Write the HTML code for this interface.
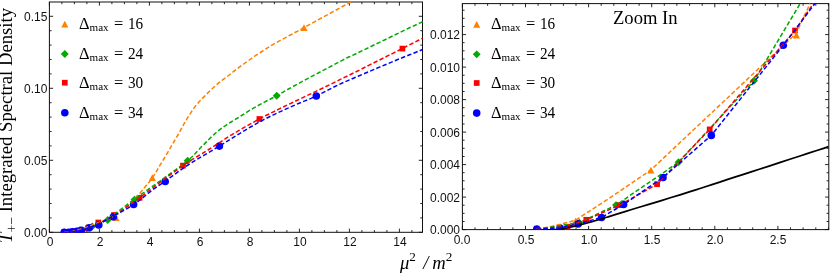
<!DOCTYPE html>
<html><head><meta charset="utf-8"><title>plot</title>
<style>
html,body{margin:0;padding:0;background:#fff;}
body{width:830px;height:274px;position:relative;overflow:hidden;}
div{position:absolute;white-space:nowrap;line-height:1;color:#000;will-change:transform;}
.tk{font-family:"Liberation Sans",sans-serif;font-size:12px;color:#111;}
.tk.c{transform:translateX(-50%);}
.lg{font-family:"Liberation Serif",serif;font-size:16.4px;word-spacing:1.2px;}
.lg sub{font-size:11.1px;vertical-align:baseline;position:relative;top:1.8px;line-height:0;}
.lg .n{display:inline-block;transform:scaleX(0.93);transform-origin:0 50%;margin-left:-0.5px;}
.ttl{font-family:"Liberation Serif",serif;font-size:18.6px;}
.xl{font-family:"Liberation Serif",serif;font-size:18.6px;word-spacing:1px;}
.xl sup{font-size:13.2px;vertical-align:baseline;position:relative;top:-8px;line-height:0;}
.yl{font-family:"Liberation Serif",serif;font-size:18.7px;transform-origin:0 0;transform:rotate(-90deg);}
.yl sub{font-size:13.8px;vertical-align:baseline;position:relative;top:4px;line-height:0;}
</style></head><body>
<svg width="830" height="274" viewBox="0 0 830 274" style="position:absolute;left:0;top:0">
<defs><clipPath id="cl"><rect x="48.90" y="0.80" width="374.10" height="232.00"/></clipPath><clipPath id="cr"><rect x="461.90" y="2.40" width="367.40" height="227.70"/></clipPath></defs>
<rect x="49.40" y="2.00" width="373.10" height="230.30" fill="none" stroke="#101010" stroke-width="1"/>
<rect x="462.40" y="3.60" width="366.40" height="226.00" fill="none" stroke="#101010" stroke-width="1"/>
<path d="M49.4 232.3L49.4 228.6M49.4 2.0L49.4 5.7M61.9 232.3L61.9 230.1M61.9 2.0L61.9 4.2M74.4 232.3L74.4 230.1M74.4 2.0L74.4 4.2M86.9 232.3L86.9 230.1M86.9 2.0L86.9 4.2M99.4 232.3L99.4 228.6M99.4 2.0L99.4 5.7M111.9 232.3L111.9 230.1M111.9 2.0L111.9 4.2M124.4 232.3L124.4 230.1M124.4 2.0L124.4 4.2M136.9 232.3L136.9 230.1M136.9 2.0L136.9 4.2M149.4 232.3L149.4 228.6M149.4 2.0L149.4 5.7M161.9 232.3L161.9 230.1M161.9 2.0L161.9 4.2M174.4 232.3L174.4 230.1M174.4 2.0L174.4 4.2M186.9 232.3L186.9 230.1M186.9 2.0L186.9 4.2M199.4 232.3L199.4 228.6M199.4 2.0L199.4 5.7M211.9 232.3L211.9 230.1M211.9 2.0L211.9 4.2M224.4 232.3L224.4 230.1M224.4 2.0L224.4 4.2M236.9 232.3L236.9 230.1M236.9 2.0L236.9 4.2M249.4 232.3L249.4 228.6M249.4 2.0L249.4 5.7M261.9 232.3L261.9 230.1M261.9 2.0L261.9 4.2M274.4 232.3L274.4 230.1M274.4 2.0L274.4 4.2M286.9 232.3L286.9 230.1M286.9 2.0L286.9 4.2M299.4 232.3L299.4 228.6M299.4 2.0L299.4 5.7M311.9 232.3L311.9 230.1M311.9 2.0L311.9 4.2M324.4 232.3L324.4 230.1M324.4 2.0L324.4 4.2M336.9 232.3L336.9 230.1M336.9 2.0L336.9 4.2M349.4 232.3L349.4 228.6M349.4 2.0L349.4 5.7M361.9 232.3L361.9 230.1M361.9 2.0L361.9 4.2M374.4 232.3L374.4 230.1M374.4 2.0L374.4 4.2M386.9 232.3L386.9 230.1M386.9 2.0L386.9 4.2M399.4 232.3L399.4 228.6M399.4 2.0L399.4 5.7M411.9 232.3L411.9 230.1M411.9 2.0L411.9 4.2M49.4 232.3L53.1 232.3M422.5 232.3L418.8 232.3M49.4 217.9L51.6 217.9M422.5 217.9L420.3 217.9M49.4 203.5L51.6 203.5M422.5 203.5L420.3 203.5M49.4 189.1L51.6 189.1M422.5 189.1L420.3 189.1M49.4 174.7L51.6 174.7M422.5 174.7L420.3 174.7M49.4 160.3L53.1 160.3M422.5 160.3L418.8 160.3M49.4 145.9L51.6 145.9M422.5 145.9L420.3 145.9M49.4 131.5L51.6 131.5M422.5 131.5L420.3 131.5M49.4 117.1L51.6 117.1M422.5 117.1L420.3 117.1M49.4 102.7L51.6 102.7M422.5 102.7L420.3 102.7M49.4 88.3L53.1 88.3M422.5 88.3L418.8 88.3M49.4 73.9L51.6 73.9M422.5 73.9L420.3 73.9M49.4 59.5L51.6 59.5M422.5 59.5L420.3 59.5M49.4 45.1L51.6 45.1M422.5 45.1L420.3 45.1M49.4 30.7L51.6 30.7M422.5 30.7L420.3 30.7M49.4 16.3L53.1 16.3M422.5 16.3L418.8 16.3M462.4 229.6L462.4 225.9M462.4 3.6L462.4 7.3M475.0 229.6L475.0 227.4M475.0 3.6L475.0 5.8M487.6 229.6L487.6 227.4M487.6 3.6L487.6 5.8M500.3 229.6L500.3 227.4M500.3 3.6L500.3 5.8M512.9 229.6L512.9 227.4M512.9 3.6L512.9 5.8M525.5 229.6L525.5 225.9M525.5 3.6L525.5 7.3M538.1 229.6L538.1 227.4M538.1 3.6L538.1 5.8M550.7 229.6L550.7 227.4M550.7 3.6L550.7 5.8M563.4 229.6L563.4 227.4M563.4 3.6L563.4 5.8M576.0 229.6L576.0 227.4M576.0 3.6L576.0 5.8M588.6 229.6L588.6 225.9M588.6 3.6L588.6 7.3M601.2 229.6L601.2 227.4M601.2 3.6L601.2 5.8M613.8 229.6L613.8 227.4M613.8 3.6L613.8 5.8M626.5 229.6L626.5 227.4M626.5 3.6L626.5 5.8M639.1 229.6L639.1 227.4M639.1 3.6L639.1 5.8M651.7 229.6L651.7 225.9M651.7 3.6L651.7 7.3M664.3 229.6L664.3 227.4M664.3 3.6L664.3 5.8M676.9 229.6L676.9 227.4M676.9 3.6L676.9 5.8M689.6 229.6L689.6 227.4M689.6 3.6L689.6 5.8M702.2 229.6L702.2 227.4M702.2 3.6L702.2 5.8M714.8 229.6L714.8 225.9M714.8 3.6L714.8 7.3M727.4 229.6L727.4 227.4M727.4 3.6L727.4 5.8M740.0 229.6L740.0 227.4M740.0 3.6L740.0 5.8M752.7 229.6L752.7 227.4M752.7 3.6L752.7 5.8M765.3 229.6L765.3 227.4M765.3 3.6L765.3 5.8M777.9 229.6L777.9 225.9M777.9 3.6L777.9 7.3M790.5 229.6L790.5 227.4M790.5 3.6L790.5 5.8M803.1 229.6L803.1 227.4M803.1 3.6L803.1 5.8M815.8 229.6L815.8 227.4M815.8 3.6L815.8 5.8M828.4 229.6L828.4 227.4M828.4 3.6L828.4 5.8M462.4 229.6L466.1 229.6M828.8 229.6L825.1 229.6M462.4 221.5L464.6 221.5M828.8 221.5L826.6 221.5M462.4 213.3L464.6 213.3M828.8 213.3L826.6 213.3M462.4 205.2L464.6 205.2M828.8 205.2L826.6 205.2M462.4 197.1L466.1 197.1M828.8 197.1L825.1 197.1M462.4 189.0L464.6 189.0M828.8 189.0L826.6 189.0M462.4 180.8L464.6 180.8M828.8 180.8L826.6 180.8M462.4 172.7L464.6 172.7M828.8 172.7L826.6 172.7M462.4 164.6L466.1 164.6M828.8 164.6L825.1 164.6M462.4 156.5L464.6 156.5M828.8 156.5L826.6 156.5M462.4 148.3L464.6 148.3M828.8 148.3L826.6 148.3M462.4 140.2L464.6 140.2M828.8 140.2L826.6 140.2M462.4 132.1L466.1 132.1M828.8 132.1L825.1 132.1M462.4 124.0L464.6 124.0M828.8 124.0L826.6 124.0M462.4 115.8L464.6 115.8M828.8 115.8L826.6 115.8M462.4 107.7L464.6 107.7M828.8 107.7L826.6 107.7M462.4 99.6L466.1 99.6M828.8 99.6L825.1 99.6M462.4 91.5L464.6 91.5M828.8 91.5L826.6 91.5M462.4 83.3L464.6 83.3M828.8 83.3L826.6 83.3M462.4 75.2L464.6 75.2M828.8 75.2L826.6 75.2M462.4 67.1L466.1 67.1M828.8 67.1L825.1 67.1M462.4 59.0L464.6 59.0M828.8 59.0L826.6 59.0M462.4 50.8L464.6 50.8M828.8 50.8L826.6 50.8M462.4 42.7L464.6 42.7M828.8 42.7L826.6 42.7M462.4 34.6L466.1 34.6M828.8 34.6L825.1 34.6M462.4 26.5L464.6 26.5M828.8 26.5L826.6 26.5M462.4 18.3L464.6 18.3M828.8 18.3L826.6 18.3M462.4 10.2L464.6 10.2M828.8 10.2L826.6 10.2" stroke="#101010" stroke-width="0.9" fill="none"/>
<g clip-path="url(#cl)">
<polygon points="64.20,228.60 67.75,235.40 60.65,235.40" fill="#ff8000"/>
<polygon points="71.80,228.00 75.35,234.80 68.25,234.80" fill="#ff8000"/>
<polygon points="86.80,223.70 90.35,230.50 83.25,230.50" fill="#ff8000"/>
<polygon points="115.90,214.10 119.45,220.90 112.35,220.90" fill="#ff8000"/>
<polygon points="152.30,174.20 155.85,181.00 148.75,181.00" fill="#ff8000"/>
<polygon points="304.00,24.20 307.55,31.00 300.45,31.00" fill="#ff8000"/>
<polygon points="72.60,227.85 76.55,231.80 72.60,235.75 68.65,231.80" fill="#00aa00"/>
<polygon points="79.90,226.25 83.85,230.20 79.90,234.15 75.95,230.20" fill="#00aa00"/>
<polygon points="92.30,222.45 96.25,226.40 92.30,230.35 88.35,226.40" fill="#00aa00"/>
<polygon points="107.70,216.05 111.65,220.00 107.70,223.95 103.75,220.00" fill="#00aa00"/>
<polygon points="134.50,195.65 138.45,199.60 134.50,203.55 130.55,199.60" fill="#00aa00"/>
<polygon points="187.60,156.85 191.55,160.80 187.60,164.75 183.65,160.80" fill="#00aa00"/>
<polygon points="276.70,91.85 280.65,95.80 276.70,99.75 272.75,95.80" fill="#00aa00"/>
<rect x="61.35" y="229.45" width="5.70" height="5.70" fill="#ff0000"/>
<rect x="67.45" y="229.35" width="5.70" height="5.70" fill="#ff0000"/>
<rect x="71.15" y="228.65" width="5.70" height="5.70" fill="#ff0000"/>
<rect x="77.75" y="227.35" width="5.70" height="5.70" fill="#ff0000"/>
<rect x="85.15" y="225.55" width="5.70" height="5.70" fill="#ff0000"/>
<rect x="95.45" y="219.65" width="5.70" height="5.70" fill="#ff0000"/>
<rect x="111.15" y="212.15" width="5.70" height="5.70" fill="#ff0000"/>
<rect x="136.75" y="194.95" width="5.70" height="5.70" fill="#ff0000"/>
<rect x="180.15" y="162.75" width="5.70" height="5.70" fill="#ff0000"/>
<rect x="256.55" y="116.15" width="5.70" height="5.70" fill="#ff0000"/>
<rect x="399.55" y="45.75" width="5.70" height="5.70" fill="#ff0000"/>
<circle cx="64.20" cy="232.40" r="3.8" fill="#0000ff"/>
<circle cx="68.80" cy="232.30" r="3.8" fill="#0000ff"/>
<circle cx="72.40" cy="231.90" r="3.8" fill="#0000ff"/>
<circle cx="77.00" cy="231.30" r="3.8" fill="#0000ff"/>
<circle cx="81.40" cy="230.20" r="3.8" fill="#0000ff"/>
<circle cx="89.20" cy="227.80" r="3.8" fill="#0000ff"/>
<circle cx="98.80" cy="224.90" r="3.8" fill="#0000ff"/>
<circle cx="113.40" cy="216.80" r="3.8" fill="#0000ff"/>
<circle cx="133.60" cy="204.50" r="3.8" fill="#0000ff"/>
<circle cx="165.20" cy="181.50" r="3.8" fill="#0000ff"/>
<circle cx="219.40" cy="146.10" r="3.8" fill="#0000ff"/>
<circle cx="316.30" cy="96.00" r="3.8" fill="#0000ff"/>
<polyline points="64.2,232.4 64.7,232.4 65.5,232.3 66.4,232.2 67.3,232.1 68.3,232.0 69.3,231.9 70.5,231.8 71.8,231.6 73.2,231.3 74.7,230.8 76.3,230.3 78.1,229.8 79.6,229.4 81.0,229.1 83.2,228.4 86.8,227.1 93.0,224.8 101.0,221.7 109.1,218.4 115.6,215.3 119.9,212.6 122.9,210.1 125.4,207.6 128.0,205.0 131.0,202.2 134.0,199.3 136.8,196.4 139.3,193.8 141.3,191.6 142.9,189.6 144.4,187.7 146.0,185.7 147.6,183.8 149.3,181.9 150.9,179.9 152.6,177.6 154.5,174.7 156.5,171.3 158.4,168.0 160.0,165.2 161.0,163.6 161.5,162.8 162.2,161.7 163.8,159.0 166.9,153.8 170.9,146.9 174.9,140.1 177.9,135.0 179.3,132.5 179.8,131.6 180.0,131.1 180.7,129.8 182.1,127.4 183.7,124.4 185.5,121.3 187.2,118.4 188.9,115.7 190.6,113.1 192.2,110.6 193.8,108.4 195.2,106.5 196.5,104.9 197.7,103.5 199.0,102.0 200.3,100.6 201.5,99.3 202.9,97.9 204.4,96.4 206.2,94.6 208.1,92.6 210.1,90.6 212.1,88.7 214.0,87.0 215.9,85.3 217.8,83.7 219.8,82.1 221.6,80.7 223.3,79.4 225.5,77.8 228.5,75.5 232.8,72.2 238.0,68.2 243.7,64.0 249.2,60.0 254.7,56.2 260.4,52.5 265.9,48.9 271.2,45.6 276.1,42.7 280.8,40.1 285.3,37.8 289.5,35.5 292.6,33.8 295.0,32.5 298.2,30.8 304.0,27.6 314.5,21.8 328.3,14.3 341.6,7.0 350.7,2.0" fill="none" stroke="#ff8000" stroke-width="1.5" stroke-dasharray="4.4 2.3"/>
<polyline points="64.3,232.3 65.8,232.2 68.0,232.2 70.4,232.0 72.6,231.8 74.4,231.5 76.0,231.2 77.7,230.8 79.9,230.2 82.6,229.5 85.6,228.6 88.9,227.6 92.3,226.4 95.6,225.1 98.9,223.8 102.6,222.0 107.3,219.2 113.3,215.1 120.2,209.9 127.4,204.4 134.4,199.2 140.9,194.6 147.2,190.1 153.5,185.6 160.0,181.0 167.1,175.9 174.6,170.5 181.7,165.4 187.6,160.8 191.9,157.0 195.0,153.8 197.5,151.0 200.0,148.3 202.5,145.8 204.7,143.6 206.7,141.6 208.5,139.8 210.0,138.3 211.2,137.1 212.3,136.1 213.5,135.0 214.7,133.9 216.0,132.8 217.2,131.7 218.5,130.6 219.8,129.6 221.1,128.6 222.5,127.6 224.0,126.6 225.6,125.5 227.3,124.4 229.1,123.2 231.0,122.0 233.1,120.7 235.3,119.4 237.6,118.0 240.0,116.5 242.4,115.0 244.8,113.5 247.3,111.9 250.0,110.2 253.0,108.4 256.3,106.6 259.7,104.7 263.0,102.9 266.1,101.2 269.2,99.7 272.5,98.0 276.4,95.9 280.7,93.5 285.2,90.9 290.7,87.8 298.0,83.8 308.4,78.2 321.2,71.4 333.7,64.8 343.2,59.8 347.6,57.5 348.8,57.0 350.1,56.5 355.0,54.2 365.6,49.1 379.6,42.3 393.9,35.4 405.0,30.0 412.1,26.6 416.9,24.4 420.2,22.9 422.6,21.8" fill="none" stroke="#00aa00" stroke-width="1.5" stroke-dasharray="4.4 2.3"/>
<polyline points="64.2,232.3 65.4,232.3 67.0,232.3 68.8,232.3 70.3,232.2 71.3,232.1 72.1,231.9 72.9,231.7 74.0,231.5 75.4,231.2 77.1,230.9 78.8,230.6 80.6,230.2 82.3,229.9 84.1,229.5 85.9,229.1 88.0,228.4 90.3,227.5 92.7,226.4 95.4,225.1 98.5,223.5 102.1,221.8 106.1,219.9 110.5,217.7 115.4,214.8 120.5,211.4 126.0,207.6 132.2,203.1 139.8,197.6 149.6,190.3 161.0,181.7 172.5,173.1 182.4,166.0 190.0,160.9 196.4,157.0 202.1,153.6 208.0,150.0 214.0,146.1 219.9,142.3 225.8,138.4 232.0,134.6 238.6,130.7 245.5,126.7 252.4,122.8 259.4,119.0 266.0,115.5 272.4,112.3 279.3,108.9 287.3,105.0 296.8,100.5 307.2,95.5 318.4,90.2 330.0,84.6 342.7,78.3 356.6,71.5 369.7,64.9 380.5,59.5 388.0,55.7 393.3,53.1 397.7,50.9 402.4,48.5 408.0,45.6 413.9,42.7 419.0,40.0 422.6,38.2" fill="none" stroke="#ff0000" stroke-width="1.5" stroke-dasharray="4.4 2.3"/>
<polyline points="64.2,232.4 65.0,232.4 66.3,232.4 67.6,232.3 68.8,232.3 69.7,232.2 70.6,232.1 71.5,232.0 72.4,231.9 73.5,231.8 74.6,231.6 75.8,231.5 77.0,231.3 78.0,231.1 79.0,230.9 80.1,230.6 81.4,230.2 83.1,229.7 85.0,229.2 87.0,228.5 89.2,227.8 91.4,227.0 93.6,226.2 96.0,225.3 98.8,224.0 101.9,222.4 105.3,220.5 109.0,218.4 113.1,216.1 117.8,213.6 123.0,210.8 128.4,207.9 133.6,204.7 138.7,201.0 143.8,196.9 148.6,193.0 152.9,189.6 156.1,187.3 158.6,185.6 161.3,183.9 164.9,181.4 169.8,177.9 175.4,173.8 181.6,169.3 188.3,164.8 195.8,160.1 204.1,155.2 212.3,150.4 219.3,146.2 224.7,142.9 229.0,140.1 233.0,137.6 237.5,134.8 242.9,131.6 248.7,128.1 254.4,124.8 259.4,122.0 263.3,119.9 266.5,118.2 269.6,116.7 273.5,114.8 278.4,112.5 283.8,110.0 289.5,107.5 295.0,105.0 300.3,102.7 305.6,100.6 311.0,98.4 316.3,96.0 321.6,93.4 326.8,90.7 332.2,87.8 338.0,85.0 344.4,82.1 351.1,79.2 358.1,76.2 365.0,73.3 371.9,70.4 378.8,67.4 385.9,64.5 393.0,61.5 401.0,58.2 409.6,54.8 417.2,51.7 422.6,49.5" fill="none" stroke="#0000ff" stroke-width="1.5" stroke-dasharray="4.4 2.3"/>
</g>
<g clip-path="url(#cr)">
<polygon points="536.70,225.60 540.25,232.40 533.15,232.40" fill="#ff8000"/>
<polygon points="575.70,217.60 579.25,224.40 572.15,224.40" fill="#ff8000"/>
<polygon points="650.90,166.80 654.45,173.60 647.35,173.60" fill="#ff8000"/>
<polygon points="796.40,31.80 799.95,38.60 792.85,38.60" fill="#ff8000"/>
<polygon points="537.00,225.05 540.95,229.00 537.00,232.95 533.05,229.00" fill="#00aa00"/>
<polygon points="579.30,218.65 583.25,222.60 579.30,226.55 575.35,222.60" fill="#00aa00"/>
<polygon points="616.00,201.15 619.95,205.10 616.00,209.05 612.05,205.10" fill="#00aa00"/>
<polygon points="678.50,158.35 682.45,162.30 678.50,166.25 674.55,162.30" fill="#00aa00"/>
<polygon points="754.00,76.85 757.95,80.80 754.00,84.75 750.05,80.80" fill="#00aa00"/>
<rect x="533.85" y="225.75" width="5.70" height="5.70" fill="#ff0000"/>
<rect x="564.75" y="223.95" width="5.70" height="5.70" fill="#ff0000"/>
<rect x="583.45" y="216.95" width="5.70" height="5.70" fill="#ff0000"/>
<rect x="616.75" y="202.25" width="5.70" height="5.70" fill="#ff0000"/>
<rect x="654.25" y="181.35" width="5.70" height="5.70" fill="#ff0000"/>
<rect x="706.85" y="126.55" width="5.70" height="5.70" fill="#ff0000"/>
<rect x="792.15" y="27.65" width="5.70" height="5.70" fill="#ff0000"/>
<circle cx="536.70" cy="229.20" r="3.8" fill="#0000ff"/>
<circle cx="560.00" cy="228.00" r="3.8" fill="#0000ff"/>
<circle cx="578.10" cy="223.90" r="3.8" fill="#0000ff"/>
<circle cx="601.50" cy="217.50" r="3.8" fill="#0000ff"/>
<circle cx="623.60" cy="204.40" r="3.8" fill="#0000ff"/>
<circle cx="663.00" cy="177.50" r="3.8" fill="#0000ff"/>
<circle cx="711.30" cy="135.40" r="3.8" fill="#0000ff"/>
<circle cx="783.30" cy="45.30" r="3.8" fill="#0000ff"/>
<polyline points="536.7,230.2 539.2,230.1 542.7,230.1 546.6,229.9 550.0,229.8 552.5,229.7 554.7,229.6 557.0,229.4 560.0,229.0 564.1,228.3 568.9,227.3 573.8,226.3 578.1,225.3 581.5,224.5 584.5,223.7 587.2,223.0 590.0,222.2 592.9,221.4 595.8,220.5 598.7,219.6 601.5,218.8 603.8,218.1 605.7,217.5 608.2,216.8 612.0,215.6 617.5,213.9 624.2,211.9 631.7,209.5 640.0,207.0 649.6,204.1 660.5,200.8 671.1,197.5 680.0,194.8 686.2,192.9 690.8,191.4 695.0,190.1 700.0,188.5 706.1,186.5 712.7,184.4 719.7,182.1 727.0,179.7 734.7,177.2 742.7,174.6 751.1,171.9 760.0,169.0 769.8,165.8 780.3,162.4 790.6,159.0 800.0,156.0 808.6,153.2 816.8,150.5 823.6,148.3 828.5,146.7" fill="none" stroke="#000" stroke-width="1.8"/>
<polyline points="536.7,229.2 552.4,226.3 575.2,220.4 606.7,200.0 650.8,170.0 796.0,33.5 810.1,3.5" fill="none" stroke="#ff8000" stroke-width="1.5" stroke-dasharray="4.4 2.3"/>
<polyline points="537.0,229.2 579.3,222.6 616.0,205.1 678.5,162.3 754.0,80.8 800.2,3.5" fill="none" stroke="#00aa00" stroke-width="1.5" stroke-dasharray="4.4 2.3"/>
<polyline points="536.7,228.6 567.6,226.8 586.3,219.8 619.6,205.1 657.1,184.2 709.7,129.4 795.0,30.5 813.4,3.5" fill="none" stroke="#ff0000" stroke-width="1.5" stroke-dasharray="4.4 2.3"/>
<polyline points="536.7,229.2 560.0,228.0 578.1,223.9 601.5,217.5 623.6,204.4 663.0,177.5 711.3,135.4 783.3,45.3 815.0,3.5" fill="none" stroke="#0000ff" stroke-width="1.5" stroke-dasharray="4.4 2.3"/>
</g>
<polygon points="64.80,20.70 68.35,27.50 61.25,27.50" fill="#ff8000"/>
<polygon points="64.80,50.10 68.75,54.05 64.80,58.00 60.85,54.05" fill="#00aa00"/>
<rect x="61.95" y="79.85" width="5.70" height="5.70" fill="#ff0000"/>
<circle cx="64.80" cy="112.80" r="3.8" fill="#0000ff"/>
<polygon points="476.70,21.00 480.25,27.80 473.15,27.80" fill="#ff8000"/>
<polygon points="476.70,50.40 480.65,54.35 476.70,58.30 472.75,54.35" fill="#00aa00"/>
<rect x="473.85" y="80.15" width="5.70" height="5.70" fill="#ff0000"/>
<circle cx="476.70" cy="113.10" r="3.8" fill="#0000ff"/>
</svg>
<div class="tk" style="right:783.00px;top:10.80px">0.15</div>
<div class="tk" style="right:783.00px;top:82.80px">0.10</div>
<div class="tk" style="right:783.00px;top:154.80px">0.05</div>
<div class="tk" style="right:783.00px;top:226.80px">0.00</div>
<div class="tk c" style="left:49.70px;top:236.00px">0</div>
<div class="tk c" style="left:99.70px;top:236.00px">2</div>
<div class="tk c" style="left:149.70px;top:236.00px">4</div>
<div class="tk c" style="left:199.70px;top:236.00px">6</div>
<div class="tk c" style="left:249.70px;top:236.00px">8</div>
<div class="tk c" style="left:299.70px;top:236.00px">10</div>
<div class="tk c" style="left:349.70px;top:236.00px">12</div>
<div class="tk c" style="left:400.40px;top:236.00px">14</div>
<div class="tk" style="right:370.00px;top:29.10px">0.012</div>
<div class="tk" style="right:370.00px;top:61.60px">0.010</div>
<div class="tk" style="right:370.00px;top:94.10px">0.008</div>
<div class="tk" style="right:370.00px;top:126.60px">0.006</div>
<div class="tk" style="right:370.00px;top:159.10px">0.004</div>
<div class="tk" style="right:370.00px;top:191.60px">0.002</div>
<div class="tk" style="right:370.00px;top:224.10px">0.000</div>
<div class="tk c" style="left:462.40px;top:233.70px">0.0</div>
<div class="tk c" style="left:525.50px;top:233.70px">0.5</div>
<div class="tk c" style="left:588.60px;top:233.70px">1.0</div>
<div class="tk c" style="left:651.70px;top:233.70px">1.5</div>
<div class="tk c" style="left:714.80px;top:233.70px">2.0</div>
<div class="tk c" style="left:777.90px;top:233.70px">2.5</div>
<div class="lg" style="left:79.00px;top:15.85px">&#916;<sub>max</sub> = <span class="n">16</span></div>
<div class="lg" style="left:79.00px;top:45.55px">&#916;<sub>max</sub> = <span class="n">24</span></div>
<div class="lg" style="left:79.00px;top:75.25px">&#916;<sub>max</sub> = <span class="n">30</span></div>
<div class="lg" style="left:79.00px;top:104.95px">&#916;<sub>max</sub> = <span class="n">34</span></div>
<div class="lg" style="left:491.30px;top:16.05px">&#916;<sub>max</sub> = <span class="n">16</span></div>
<div class="lg" style="left:491.30px;top:45.75px">&#916;<sub>max</sub> = <span class="n">24</span></div>
<div class="lg" style="left:491.30px;top:75.45px">&#916;<sub>max</sub> = <span class="n">30</span></div>
<div class="lg" style="left:491.30px;top:105.15px">&#916;<sub>max</sub> = <span class="n">34</span></div>
<div class="ttl" style="left:613.2px;top:9.1px">Zoom In</div>
<div class="xl" style="left:400px;top:253.8px"><i>&#956;</i><sup>2</sup> <i style="margin-left:1.6px;margin-right:-1.8px">/</i> <i>m</i><sup>2</sup></div>
<div class="yl" style="left:-3.2px;top:243.0px"><i>T</i><sub>+&#8722;</sub> Integrated Spectral Density</div>
</body></html>
